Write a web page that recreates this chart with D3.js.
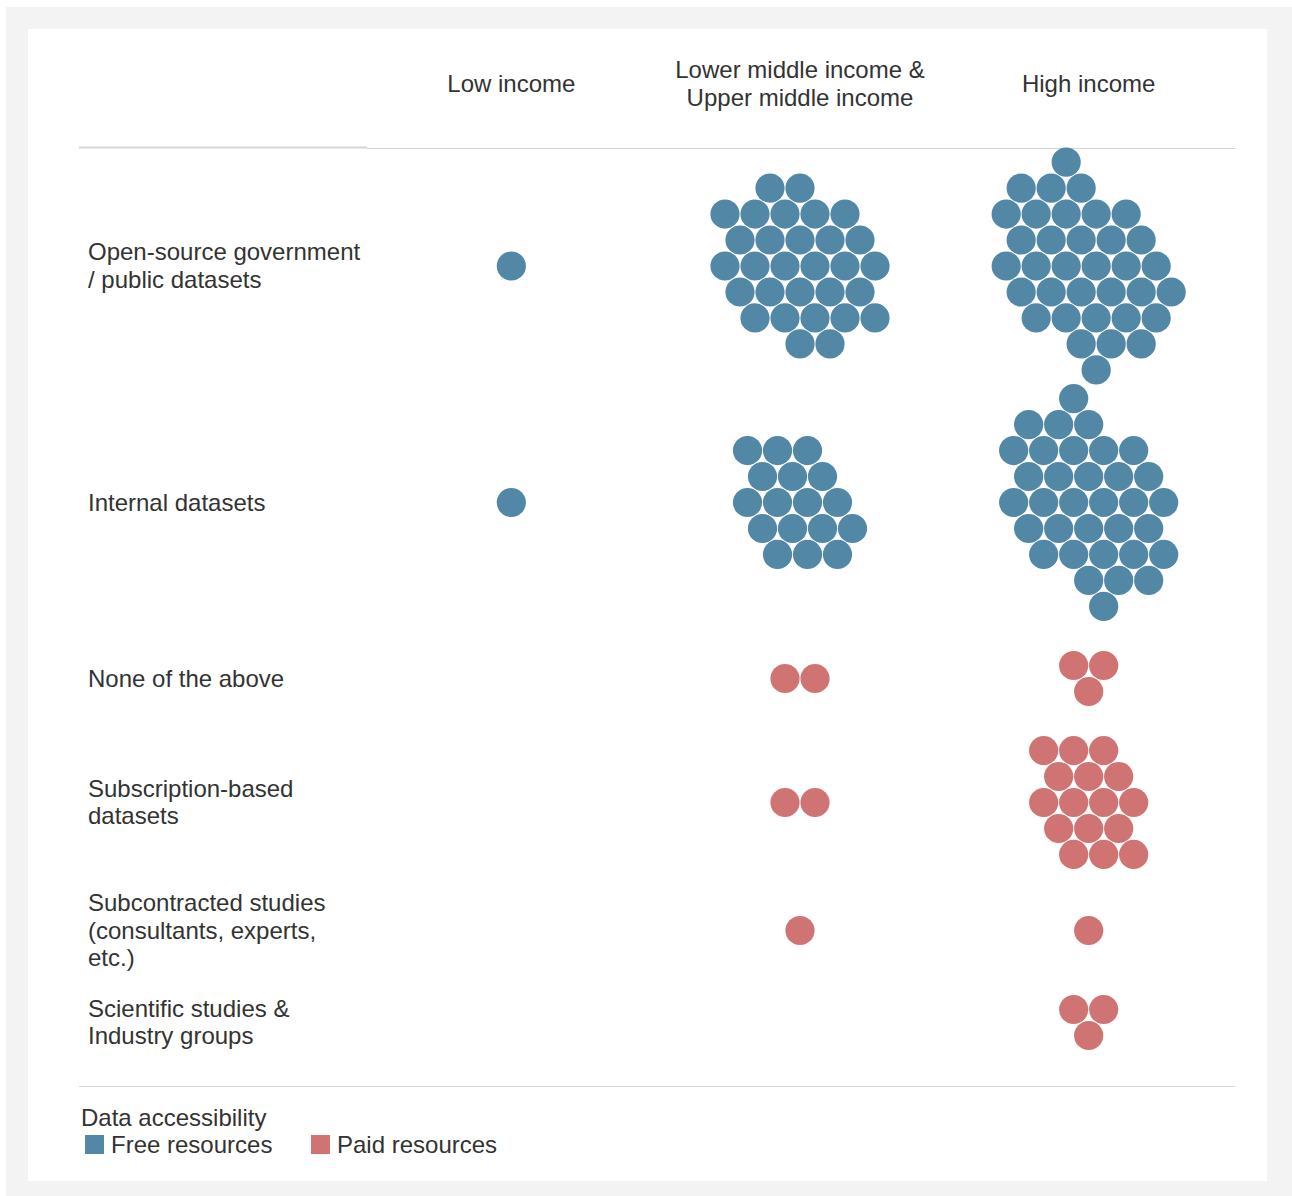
<!DOCTYPE html>
<html>
<head>
<meta charset="utf-8">
<script src="https://cdn.jsdelivr.net/npm/d3@7"></script>
<style>
  body { margin: 0; background: #ffffff; }
  text { font-family: "Liberation Sans", Arial, Helvetica, sans-serif; fill: #333333; }
</style>
</head>
<body>
<svg id="chart" width="1292" height="1196"></svg>
<script>
// ---- data -------------------------------------------------------------
const incomeGroups = ["Low income", "Lower middle income &\nUpper middle income", "High income"];
const sources = [
  "Open-source government\n/ public datasets",
  "Internal datasets",
  "None of the above",
  "Subscription-based\ndatasets",
  "Subcontracted studies\n(consultants, experts,\netc.)",
  "Scientific studies &\nIndustry groups"
];
const sourceAccess = ["Free resources", "Free resources", "Paid resources", "Paid resources", "Paid resources", "Paid resources"];
// number of respondents per source, one array per income group
const lowIncomeCounts    = [1, 1, 0, 0, 0, 0];
const middleIncomeCounts = [30, 17, 2, 2, 1, 0];
const highIncomeCounts   = [35, 34, 3, 16, 1, 3];
const accessTypes = ["Free resources", "Paid resources"];
const legendTitle = "Data accessibility";

// ---- layout -----------------------------------------------------------
const W = 1292, H = 1196;
const dotR = 14.6, dotStep = 30;
const labelX = 88, lineH = 27.5, fontSize = 24, capShift = 8.2;
const tableTop = 148;
const rowBandHeights = [236, 237, 115, 133, 123, 61];

const counts = [lowIncomeCounts, middleIncomeCounts, highIncomeCounts];

const color = d3.scaleOrdinal().domain(accessTypes).range(["#5287a5", "#cf7472"]);
const x = d3.scaleBand().domain(incomeGroups).range([367, 1233]);

// Hexagonal packing: lattice points ranked by a sheared L^p distance
// (pointed top and bottom), keeping the first n, centred on their bounding box.
const pack = { p: 1.3, c: 0.82, shear: 0.25 };
function hexCluster(n) {
  if (!n) return [];
  const h = dotStep * Math.sqrt(3) / 2;
  const pts = [];
  const R = 9;
  for (let j = -R; j <= R; j++) {
    for (let i = -R; i <= R; i++) {
      const px = (i + (Math.abs(j) % 2 ? 0.5 : 0)) * dotStep - dotStep / 2;
      const py = j * h;
      const xs = px - pack.shear * py;
      let m = Math.pow(Math.abs(xs), pack.p) + Math.pow(Math.abs(pack.c * py), pack.p);
      m = Math.round(m * 1000) / 1000;
      pts.push({ x: px, y: py, m });
    }
  }
  pts.sort((a, b) => a.m - b.m || b.y - a.y || a.x - b.x);
  const pick = pts.slice(0, n);
  const [x0, x1] = d3.extent(pick, p => p.x);
  const [y0, y1] = d3.extent(pick, p => p.y);
  return pick.map(p => ({ x: p.x - (x0 + x1) / 2, y: p.y - (y0 + y1) / 2 }));
}

// cells: one cluster per source x income group
const cells = [];
sources.forEach((s, si) => {
  incomeGroups.forEach((g, gi) => {
    const n = counts[gi][si];
    cells.push({ source: s, si, group: g, n, access: sourceAccess[si], dots: hexCluster(n) });
  });
});

// row bands stacked from the header rule downwards
const rowY = [];
let cursor = tableTop;
rowBandHeights.forEach(hgt => {
  rowY.push(cursor + hgt / 2);
  cursor += hgt;
});

const svg = d3.select("#chart");

// frame
svg.append("rect").attr("x", 6).attr("y", 7).attr("width", W - 6).attr("height", H - 7).attr("fill", "#f3f3f3");
svg.append("rect").attr("x", 28).attr("y", 29).attr("width", 1239).attr("height", 1152).attr("fill", "#ffffff");

// column headers
const header = svg.append("g");
incomeGroups.forEach(g => {
  const lines = g.split("\n");
  const cx = x(g) + x.bandwidth() / 2;
  const t = header.append("text").attr("text-anchor", "middle").attr("font-size", fontSize);
  lines.forEach((ln, i) => {
    t.append("tspan").attr("x", cx)
      .attr("y", 83.5 + (i - (lines.length - 1) / 2) * 28 + 8.6)
      .text(ln);
  });
});

// rules
svg.append("line").attr("x1", 79).attr("x2", 367).attr("y1", 147.5).attr("y2", 147.5)
  .attr("stroke", "#d6d6d6").attr("stroke-width", 2);
svg.append("line").attr("x1", 367).attr("x2", 1235).attr("y1", 148.5).attr("y2", 148.5)
  .attr("stroke", "#d6d6d6").attr("stroke-width", 1);
svg.append("line").attr("x1", 79).attr("x2", 1235).attr("y1", 1086.5).attr("y2", 1086.5)
  .attr("stroke", "#d6d6d6").attr("stroke-width", 1.2);

// row labels
sources.forEach((s, si) => {
  const lines = s.split("\n");
  const t = svg.append("text").attr("font-size", fontSize);
  lines.forEach((ln, i) => {
    t.append("tspan").attr("x", labelX)
      .attr("y", rowY[si] + (i - (lines.length - 1) / 2) * lineH + capShift)
      .text(ln);
  });
});

// dot clusters
const cellG = svg.append("g").selectAll("g").data(cells).join("g")
  .attr("transform", d => `translate(${x(d.group) + x.bandwidth() / 2},${rowY[d.si]})`);
cellG.selectAll("circle").data(d => d.dots.map(p => ({ ...p, access: d.access }))).join("circle")
  .attr("cx", d => d.x).attr("cy", d => d.y).attr("r", dotR)
  .attr("fill", d => color(d.access));

// legend
svg.append("text").attr("x", 81).attr("y", 1125.5).attr("font-size", fontSize).text(legendTitle);
const legendX = d3.scalePoint().domain(accessTypes).range([85, 311]);
const li = svg.append("g").selectAll("g").data(accessTypes).join("g")
  .attr("transform", d => `translate(${legendX(d)},1135)`);
li.append("rect").attr("width", 19).attr("height", 19).attr("fill", d => color(d));
li.append("text").attr("x", 26).attr("y", 17.5).attr("font-size", fontSize).text(d => d);
</script>
</body>
</html>
